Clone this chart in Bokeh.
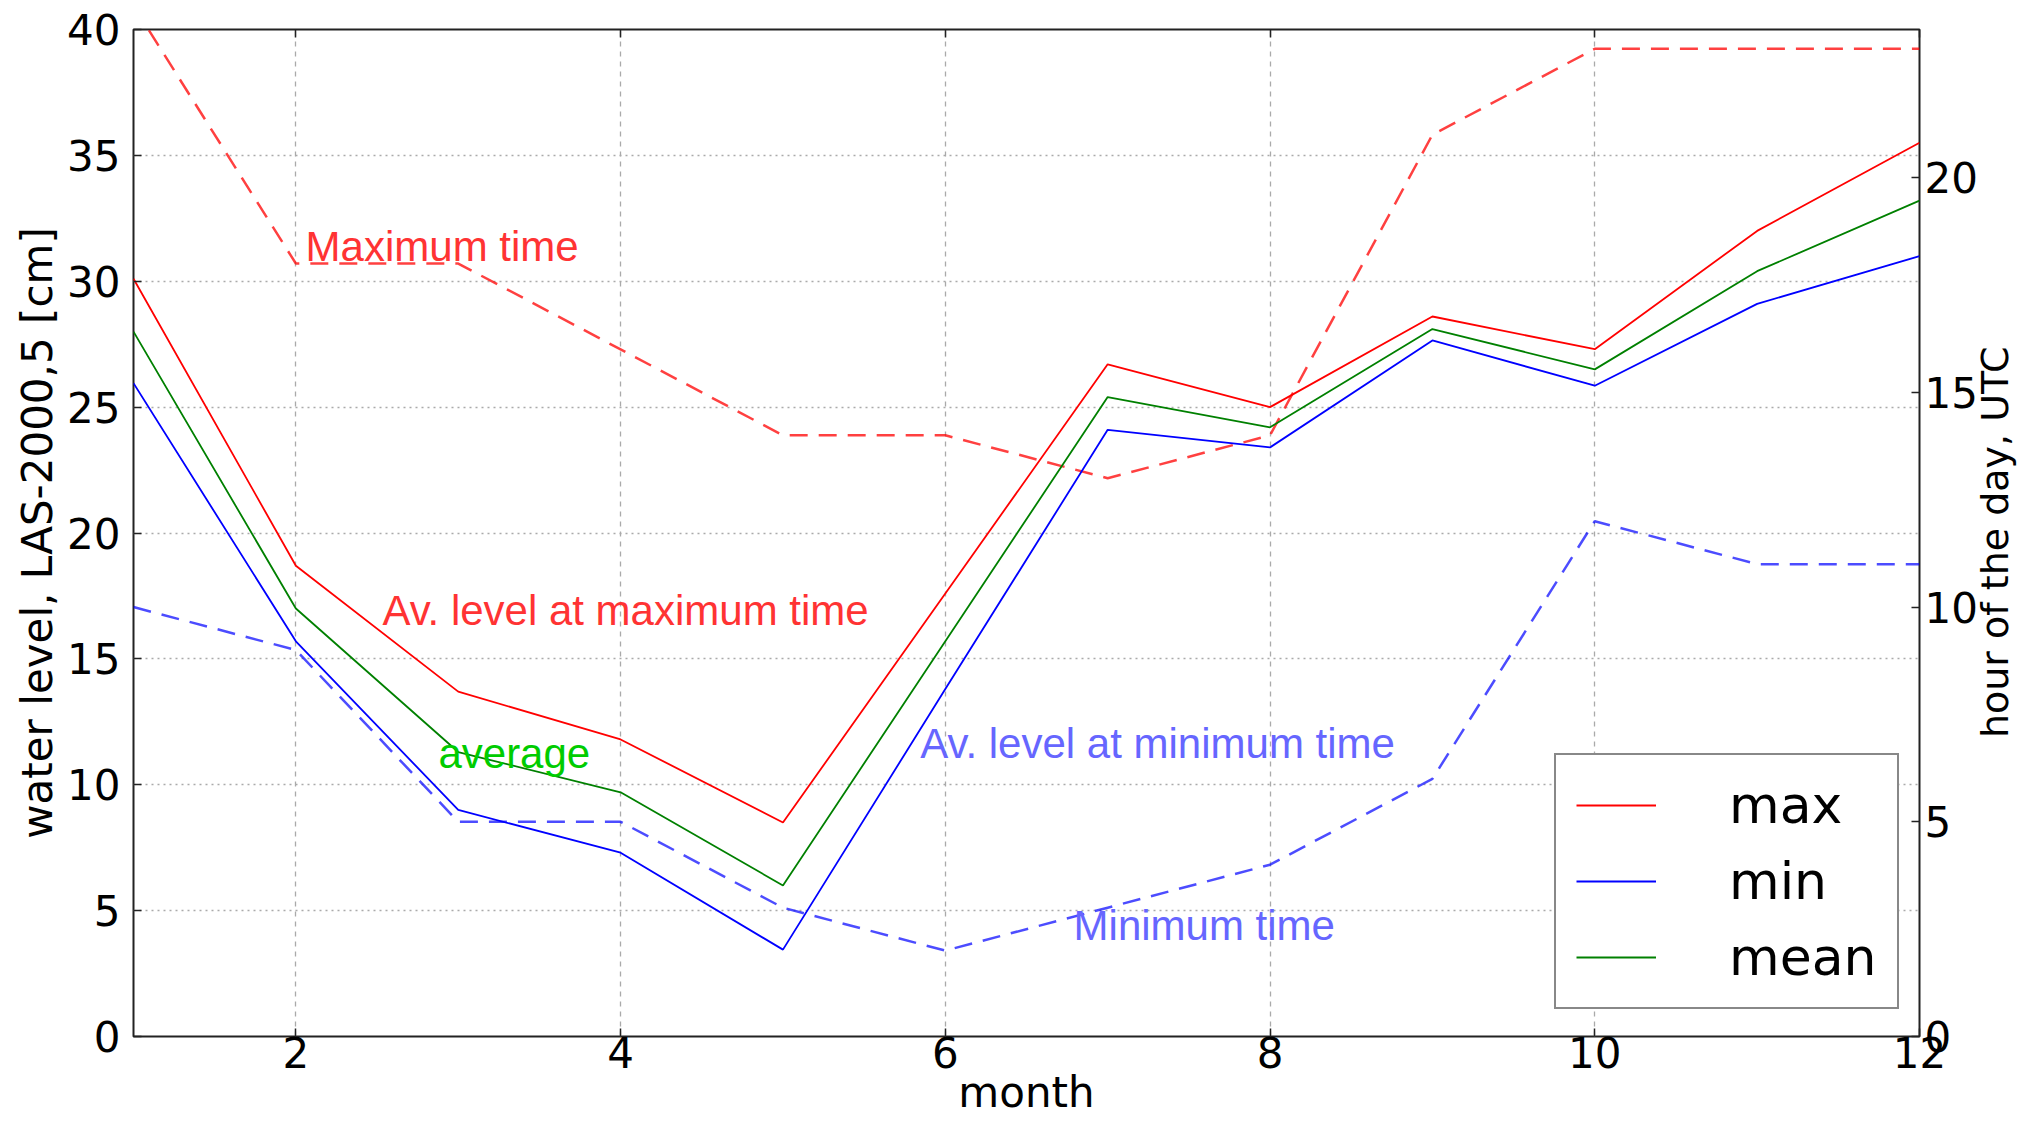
import math
from bokeh.plotting import figure
from bokeh.models import Range1d, LinearAxis, FixedTicker, Legend, LegendItem
from bokeh.core.properties import value
from bokeh.embed import file_html
from bokeh.resources import INLINE

# ---------------- data ----------------
months = [1, 2, 3, 4, 5, 6, 7, 8, 9, 10, 11, 12]
level_max = [30.1, 18.7, 13.7, 11.8, 8.5, 17.6, 26.7, 25.0, 28.6, 27.3, 32.0, 35.5]
level_min = [25.95, 15.7, 9.0, 7.3, 3.45, 13.8, 24.1, 23.4, 27.65, 25.85, 29.1, 31.0]
level_mean = [28.0, 17.0, 11.3, 9.7, 6.0, 15.7, 25.4, 24.2, 28.1, 26.5, 30.4, 33.2]
hour_of_max = [24, 18, 18, 16, 14, 14, 13, 14, 21, 23, 23, 23]
hour_of_min = [10, 9, 5, 5, 3, 2, 3, 4, 6, 12, 11, 11]

month_ticks = [2, 4, 6, 8, 10, 12]
level_ticks = [0, 5, 10, 15, 20, 25, 30, 35, 40]
hour_ticks = [0, 5, 10, 15, 20]

# ---------------- layout ----------------
W, H = 2043, 1131
FL, FR, FT, FB = 133, 1919, 29, 1036

p = figure(width=W, height=H, output_backend="svg", toolbar_location=None,
           x_range=Range1d(1, 12), y_range=Range1d(0, 40),
           min_border_left=FL, min_border_right=W - FR,
           min_border_top=FT, min_border_bottom=H - FB,
           x_axis_label="month", y_axis_label="water level, LAS-2000,5 [cm]")
p.extra_y_ranges = {"hours": Range1d(0, 23.45)}
p.background_fill_color = "white"
p.border_fill_color = "white"
p.outline_line_color = "#222222"
p.outline_line_width = 2
p.outline_line_alpha = 1.0

bottom_axis = p.below[0]
left_axis = p.left[0]
top_axis = LinearAxis(ticker=FixedTicker(ticks=month_ticks),
                      major_label_overrides={t: "" for t in month_ticks})
right_axis = LinearAxis(y_range_name="hours", ticker=FixedTicker(ticks=hour_ticks))
# title of the right axis, written bottom-to-top (as in the reference)
label_pos = 6.95
right_title_axis = LinearAxis(y_range_name="hours", ticker=FixedTicker(ticks=[label_pos]),
                              major_label_overrides={label_pos: "hour of the day, UTC"},
                              major_label_orientation=math.pi / 2)
p.add_layout(top_axis, "above")
p.add_layout(right_axis, "right")
p.add_layout(right_title_axis, "right")

bottom_axis.ticker = FixedTicker(ticks=month_ticks)
left_axis.ticker = FixedTicker(ticks=level_ticks)

for ax in [bottom_axis, left_axis, top_axis, right_axis, right_title_axis]:
    ax.axis_line_color = None
    ax.major_tick_in = 8
    ax.major_tick_out = 0
    ax.minor_tick_line_color = None
    ax.major_tick_line_color = "#222222"
    ax.major_tick_line_width = 1.5
    ax.major_label_text_font = "DejaVu Sans"
    ax.major_label_text_font_size = "42px"
    ax.major_label_text_color = "black"
    ax.axis_label_text_font = "DejaVu Sans"
    ax.axis_label_text_font_size = "42px"
    ax.axis_label_text_font_style = "normal"
    ax.axis_label_text_color = "black"

top_axis.major_label_text_font_size = "0px"
top_axis.major_label_standoff = 0

right_title_axis.major_tick_line_color = None
right_title_axis.major_tick_in = 0
right_title_axis.major_label_text_font_size = "38px"
right_title_axis.major_label_text_line_height = 0.8
right_title_axis.major_label_standoff = 15

bottom_axis.major_label_standoff = 0
bottom_axis.axis_label_standoff = -3
left_axis.major_label_standoff = 13
left_axis.axis_label_standoff = 2
right_axis.major_label_standoff = 5

p.xgrid.grid_line_color = "#aaaaaa"
p.xgrid.grid_line_dash = "5 5"
p.xgrid.grid_line_width = 1.3
p.ygrid.grid_line_color = "#aaaaaa"
p.ygrid.grid_line_dash = "2 4"
p.ygrid.grid_line_width = 1.5

# ---------------- series ----------------
p.line(months, hour_of_max, y_range_name="hours", line_color="#ff0000",
       line_alpha=0.75, line_dash="18 11", line_width=2.5)
p.line(months, hour_of_min, y_range_name="hours", line_color="#0000ff",
       line_alpha=0.7, line_dash="18 11", line_width=2.5)
r_max = p.line(months, level_max, line_color="#ff0000", line_width=1.8)
r_min = p.line(months, level_min, line_color="#0000ff", line_width=1.8)
r_mean = p.line(months, level_mean, line_color="#008000", line_width=1.8)

# ---------------- annotations ----------------
def note(x, y, txt, color):
    p.text(x=[x], y=[y], text=[txt], text_color=color,
           text_font=value("Liberation Sans"), text_font_size=value("42px"),
           text_align="left", text_baseline="alphabetic")

note(2.06, 31.4, "Maximum time", "#ff3333")
note(2.533, 16.93, "Av. level at maximum time", "#ff3333")
note(2.878, 11.25, "average", "#00cc00")
note(5.846, 11.64, "Av. level at minimum time", "#6666ff")
note(6.79, 4.41, "Minimum time", "#6666ff")

legend = Legend(items=[LegendItem(label="max", renderers=[r_max]),
                       LegendItem(label="min", renderers=[r_min]),
                       LegendItem(label="mean", renderers=[r_mean])],
                location=(1421, 27),
                padding=20, spacing=16, glyph_height=60, glyph_width=80,
                label_height=60, label_width=148, label_standoff=73,
                label_text_font="DejaVu Sans", label_text_font_size="52px",
                label_text_color="black",
                border_line_color="#111111", border_line_width=2,
                background_fill_color="white", background_fill_alpha=1.0)
p.add_layout(legend)

open("out.html", "w").write(file_html(p, INLINE))
